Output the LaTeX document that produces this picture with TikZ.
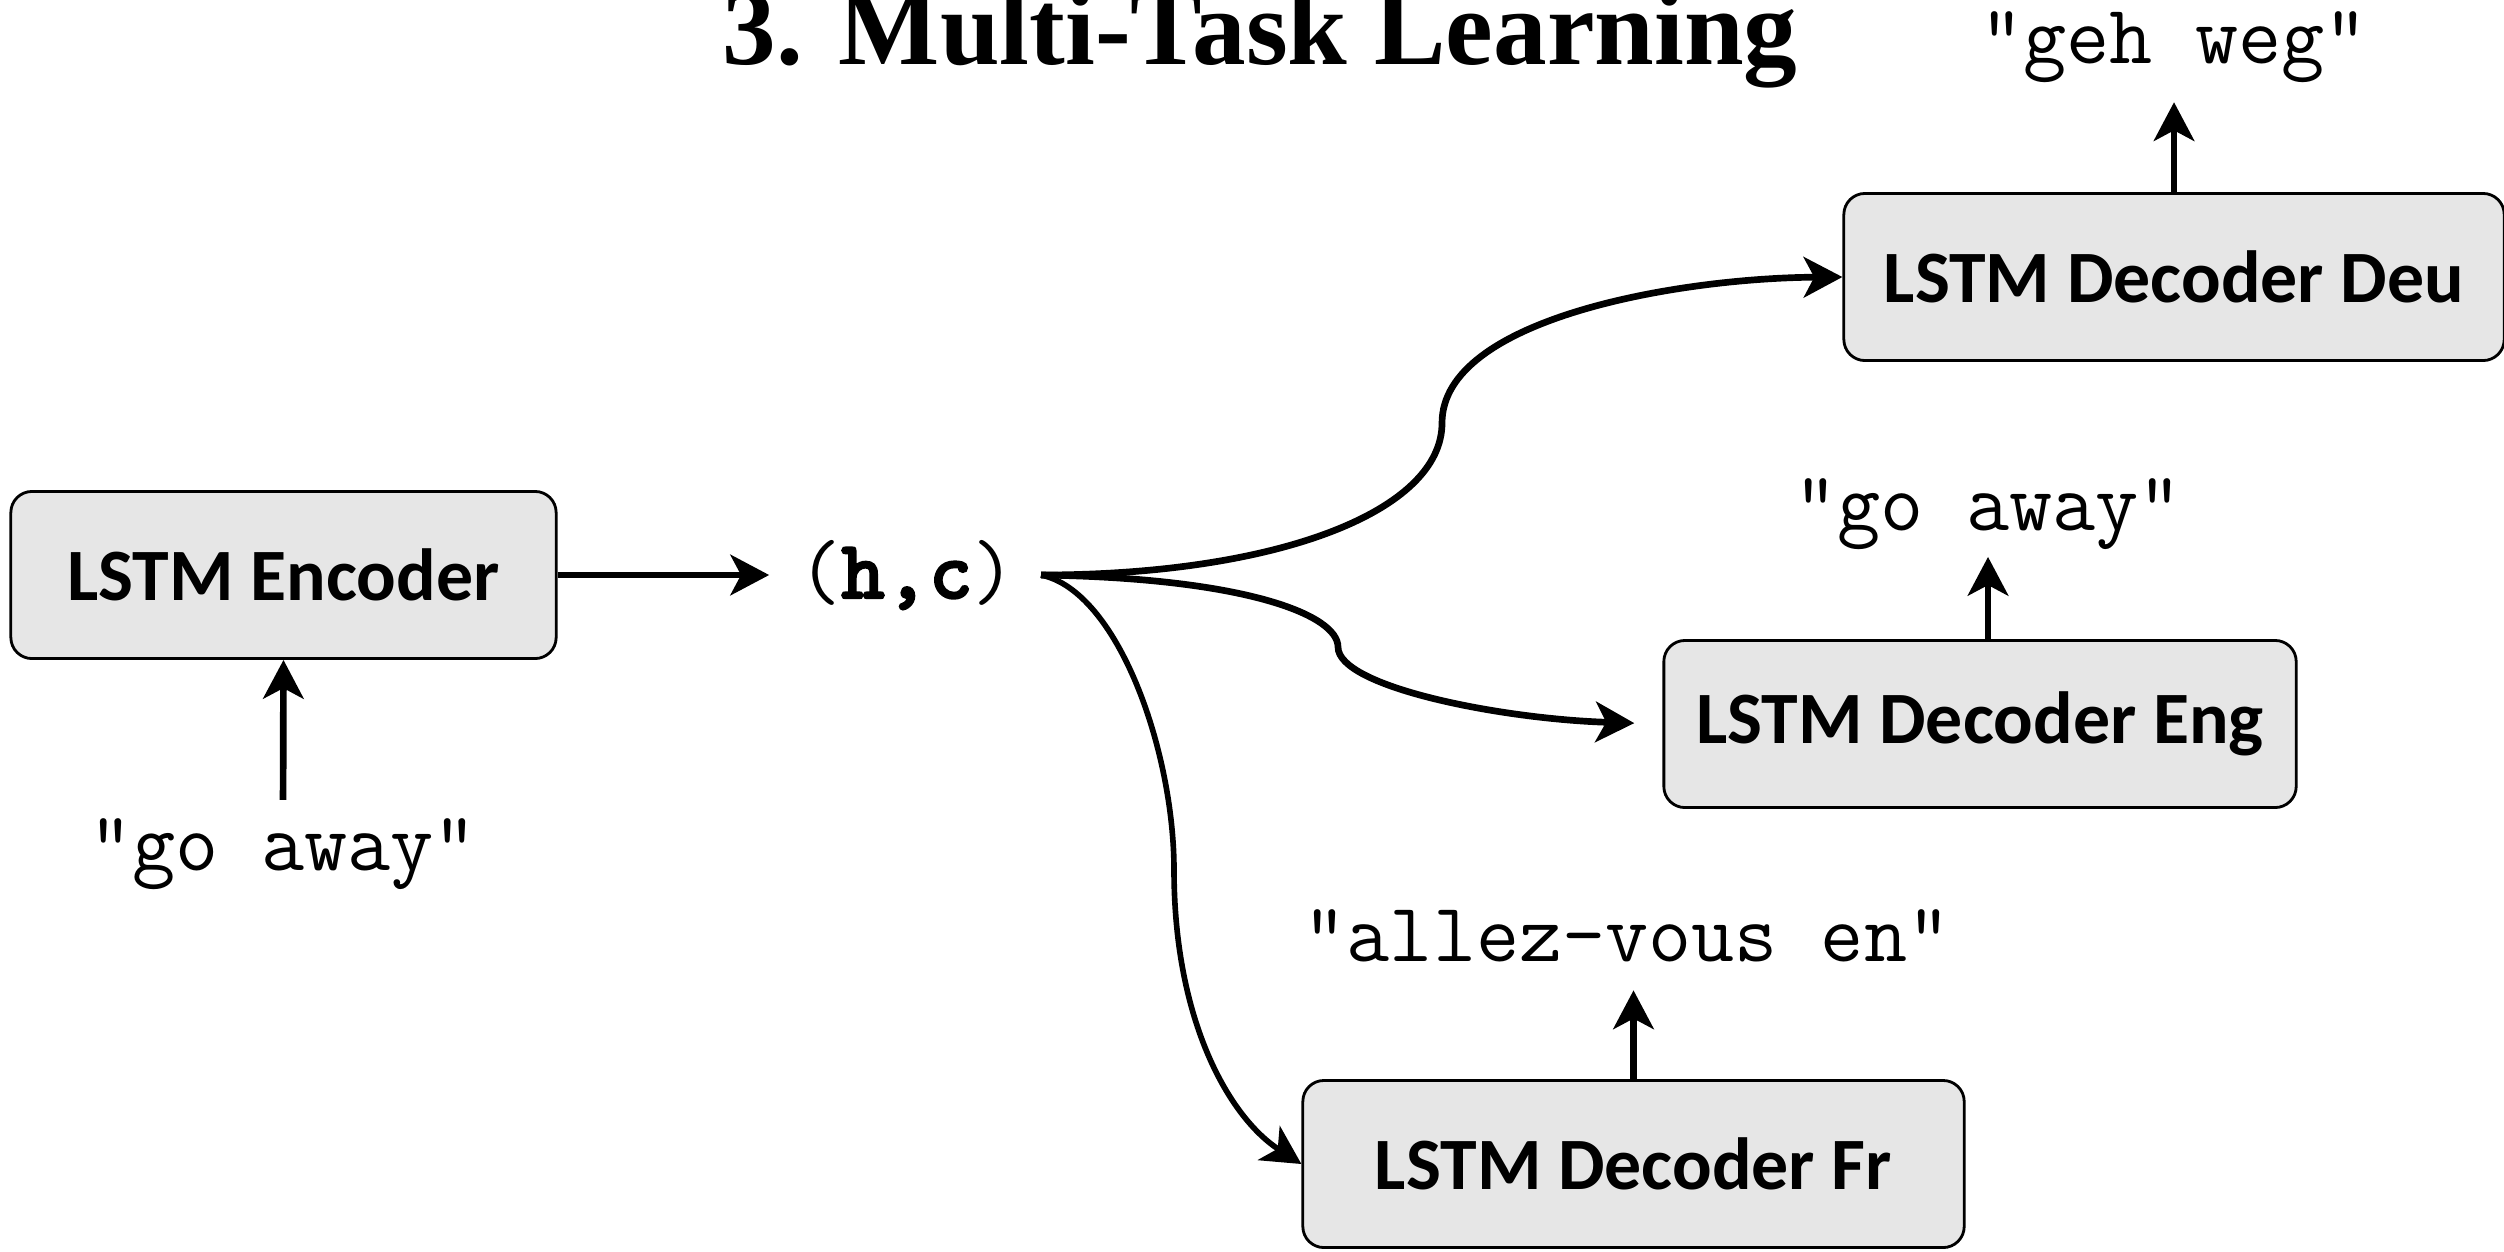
\documentclass[tikz,border=0pt]{standalone}
\usepackage{fontspec}
\setmainfont{Liberation Serif}
\newfontfamily\boxfont{Carlito}
\newfontfamily\hcbold{lmmonolt10-bold.otf}[FakeBold=2]
\usetikzlibrary{arrows.meta}
\definecolor{boxgray}{HTML}{E6E6E6}
\begin{document}
\begin{tikzpicture}[x=0.01cm,y=-0.01cm,
  box/.style={draw=black, line width=0.8pt, fill=boxgray, rounded corners=6pt,
    font=\boxfont\bfseries\fontsize{21}{25}\selectfont, inner sep=0pt, minimum height=1.67cm},
  mono/.style={font=\ttfamily\fontsize{23.8}{28}\selectfont, inner sep=0pt},
  arr/.style={line width=1.9pt, -{Stealth[length=11pt,width=11.5pt,inset=3pt]}},
  curv/.style={arr, line width=1.9pt},
]
\useasboundingbox (0,0) rectangle (2504,1251);

% title
\node[anchor=base, font=\bfseries\fontsize{30.5}{34}\selectfont, inner sep=0pt] (title) at (1260,64) {3. Multi-Task Learning};

% boxes
\node[box, minimum width=5.45cm] (enc) at (283.5,575) {LSTM Encoder};
\node[box, minimum width=6.6cm] (deu) at (2174,277) {LSTM Decoder Deu};
\node[box, minimum width=6.32cm] (eng) at (1980,724) {LSTM Decoder Eng};
\node[box, minimum width=6.61cm] (fr) at (1633.5,1164) {LSTM Decoder Fr};

% texts
\node[mono, anchor=base] (goin) at (283,870) {"go away"};
\node[mono, anchor=base] (geh) at (2174,63) {"geh weg"};
\node[mono, anchor=base] (goeng) at (1988,530) {"go away"};
\node[mono, anchor=base] (allez) at (1627,961) {"allez-vous en"};
\node[mono] (hc) at (907,575) {({\hcbold h,c})};
\coordinate (B) at (1041,575);

% straight arrows
\draw[arr, shorten >=8pt] (enc.east) -- (hc.west);
\draw[arr, shorten <=5pt] (goin.north) -- (enc.south);
\draw[arr, shorten >=5.5pt] (deu.north) -- (geh.south);
\draw[arr, shorten >=2pt] (goeng.south |- eng.north) -- (goeng.south);
\draw[arr, shorten >=8pt] (fr.north) -- (fr.north |- allez.south);

% curves
\draw[curv] (B) .. controls (1278,575) and (1442,511) .. (1442,423)
  .. controls (1442,319) and (1677,278) .. (deu.west);
\draw[curv, shorten >=8pt] (B) .. controls (1246,578) and (1338,615) .. (1338,647)
  .. controls (1338,687) and (1501,719) .. (eng.west);
\draw[curv, line width=1.6pt] (B) .. controls (1118,591) and (1174,751) .. (1174,870)
  .. controls (1174,1022) and (1230,1118) .. (fr.west);
\end{tikzpicture}
\end{document}
